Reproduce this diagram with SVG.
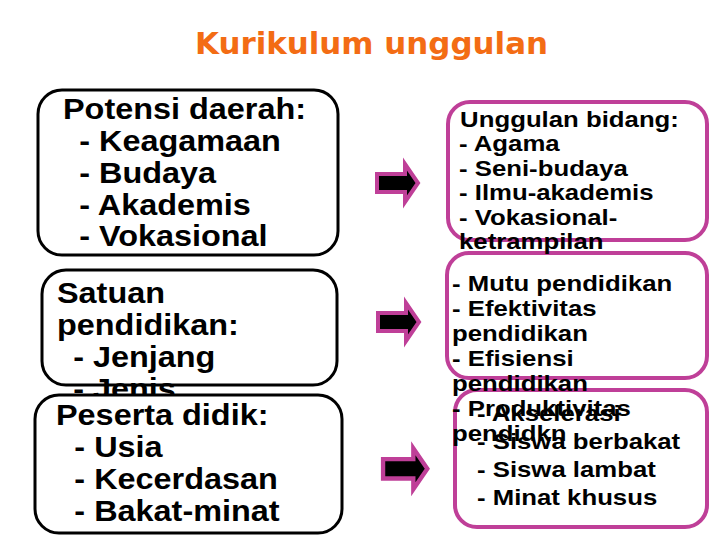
<svg xmlns="http://www.w3.org/2000/svg" width="720" height="540" viewBox="0 0 720 540">
<style>
.title{font-family:"DejaVu Sans","Liberation Sans",sans-serif;font-weight:bold;font-size:31px;fill:#F36C14}
.big{font-family:"Liberation Sans",Arial,sans-serif;font-weight:bold;font-size:30px;fill:#000}
.small{font-family:"Liberation Sans",Arial,sans-serif;font-weight:bold;font-size:23px;fill:#000}
.kbox{fill:#fff;stroke:#000;stroke-width:3}
.mbox{fill:#fff;stroke:#BF3F98;stroke-width:4}
.arrow{fill:#000;stroke:#BF3F98;stroke-width:4;stroke-linejoin:miter}
</style>
<defs>
<path id="blockArrow" d="M1,1 L29,1 L29,-9 L42,10 L29,29 L29,19 L1,19 Z"/>
</defs>
<rect width="720" height="540" fill="#fff"/>
<text class="title" x="195" y="54" textLength="353" lengthAdjust="spacingAndGlyphs">Kurikulum unggulan</text>

<g id="potensi-daerah">
<rect class="kbox" x="38" y="90" width="300" height="165" rx="24"/>
<text class="big" transform="translate(63 0) scale(1.08 1)"><tspan x="0" y="119">Potensi daerah:</tspan><tspan x="15" y="151">- Keagamaan</tspan><tspan x="15" y="183">- Budaya</tspan><tspan x="15" y="215">- Akademis</tspan><tspan x="15" y="246">- Vokasional</tspan></text>
</g>

<g id="satuan-pendidikan">
<rect class="kbox" x="42" y="270" width="295" height="115" rx="24"/>
<text class="big" transform="translate(57 0) scale(1.08 1)"><tspan x="0" y="303">Satuan</tspan><tspan x="0" y="335">pendidikan:</tspan><tspan x="15" y="367">- Jenjang</tspan><tspan x="15" y="399">- Jenis</tspan></text>
</g>

<g id="peserta-didik">
<rect class="kbox" x="35" y="395" width="307" height="138" rx="24"/>
<text class="big" transform="translate(56 0) scale(1.08 1)"><tspan x="0" y="425">Peserta didik:</tspan><tspan x="17" y="457">- Usia</tspan><tspan x="17" y="489">- Kecerdasan</tspan><tspan x="17" y="521">- Bakat-minat</tspan></text>
</g>

<g id="unggulan-bidang">
<rect class="mbox" x="448" y="102" width="259" height="138" rx="22"/>
</g>
<g id="mutu">
<rect class="mbox" x="447" y="253" width="260" height="125" rx="22"/>
</g>
<g id="akselerasi">
<rect class="mbox" x="455" y="390" width="252" height="137" rx="22"/>
<text class="small" transform="translate(477 0) scale(1.12 1)"><tspan x="0" y="421">- Akselerasi</tspan><tspan x="0" y="449">- Siswa berbakat</tspan><tspan x="0" y="477">- Siswa lambat</tspan><tspan x="0" y="505">- Minat khusus</tspan></text>
</g>
<g id="unggulan-bidang-text">
<text class="small" transform="translate(459 0) scale(1.12 1)"><tspan x="1" y="127">Unggulan bidang:</tspan><tspan x="0" y="151">- Agama</tspan><tspan x="0" y="176">- Seni-budaya</tspan><tspan x="0" y="200">- Ilmu-akademis</tspan><tspan x="0" y="225">- Vokasional-</tspan><tspan x="0" y="249">ketrampilan</tspan></text>
</g>
<g id="mutu-text">
<text class="small" transform="translate(452 0) scale(1.12 1)"><tspan x="0" y="291">- Mutu pendidikan</tspan><tspan x="0" y="316">- Efektivitas</tspan><tspan x="0" y="341">pendidikan</tspan><tspan x="0" y="366">- Efisiensi</tspan><tspan x="0" y="391">pendidikan</tspan><tspan x="0" y="416">- Produktivitas</tspan><tspan x="0" y="441">pendidkn</tspan></text>
</g>

<g id="connectors">
<use href="#blockArrow" class="arrow" transform="translate(376 173)"/>
<use href="#blockArrow" class="arrow" transform="translate(377 312)"/>
<use href="#blockArrow" class="arrow" transform="translate(382 458) scale(1.08)"/>
</g>
</svg>
